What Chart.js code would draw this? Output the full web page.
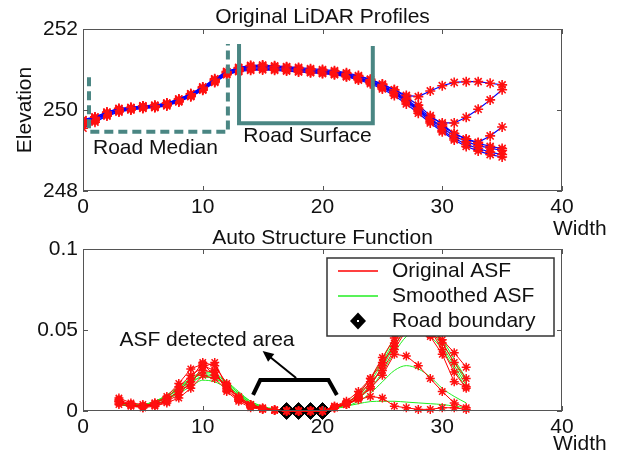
<!DOCTYPE html>
<html><head><meta charset="utf-8">
<script src="https://cdn.jsdelivr.net/npm/chart.js@4.4.0/dist/chart.umd.min.js"></script>
<style>
html,body{margin:0;padding:0;background:#fff;width:619px;height:457px;overflow:hidden}
#c1{position:absolute;left:0;top:0}
#c2{position:absolute;left:0;top:218px}
</style></head><body>
<canvas id="c1" width="619" height="240"></canvas>
<canvas id="c2" width="619" height="239"></canvas>
<script>
// ---------- DATA ----------
const widthX = [0,1,2,3,4,5,6,7,8,9,10,11,12,13,14,15,16,17,18,19,20,21,22,23,24,25,26,27,28,29,30,31,32,33,34,35];
const profile1 = [249.75,249.82,249.95,250.04,250.06,250.10,250.11,250.17,250.27,250.40,250.56,250.76,250.95,251.04,251.09,251.10,251.08,251.06,251.03,251.00,250.98,250.95,250.90,250.83,250.75,250.63,250.50,250.36,250.33,250.47,250.60,250.68,250.70,250.70,250.66,250.62];
const profile2 = [249.72,249.80,249.92,250.00,250.05,250.08,250.10,250.15,250.25,250.38,250.54,250.74,250.93,251.02,251.07,251.08,251.06,251.04,251.01,250.98,250.96,250.93,250.88,250.80,250.72,250.60,250.46,250.27,250.05,249.82,249.68,249.68,249.82,250.02,250.25,250.50];
const profile3 = [249.70,249.78,249.90,250.00,250.04,250.08,250.09,250.14,250.24,250.36,250.52,250.72,250.92,251.00,251.05,251.07,251.05,251.03,251.00,250.97,250.95,250.92,250.87,250.79,250.70,250.58,250.44,250.24,250.02,249.78,249.60,249.42,249.28,249.20,249.36,249.58];
const profile4 = [249.76,249.83,249.94,250.03,250.06,250.10,250.12,250.17,250.27,250.40,250.57,250.77,250.95,251.05,251.10,251.11,251.09,251.07,251.05,251.02,251.00,250.97,250.92,250.85,250.76,250.64,250.50,250.32,250.12,249.86,249.64,249.42,249.28,249.18,249.10,249.05];
const profile5 = [249.68,249.77,249.90,249.99,250.03,250.07,250.08,250.13,250.22,250.35,250.51,250.71,250.90,250.98,251.03,251.04,251.02,251.00,250.98,250.95,250.93,250.90,250.85,250.78,250.70,250.57,250.42,250.22,250.00,249.76,249.56,249.36,249.22,249.12,249.06,249.00];
const profile6 = [249.62,249.74,249.87,249.97,250.01,250.05,250.07,250.12,250.21,250.34,250.50,250.70,250.88,250.96,251.00,251.01,251.00,250.98,250.95,250.93,250.91,250.88,250.83,250.76,250.68,250.55,250.40,250.20,249.97,249.72,249.50,249.30,249.15,249.05,248.96,248.90];
const profile7 = [249.55,249.70,249.85,249.95,250.00,250.04,250.06,250.10,250.20,250.33,250.49,250.68,250.87,250.95,250.98,250.99,250.98,250.96,250.94,250.92,250.90,250.87,250.82,250.74,250.65,250.52,250.36,250.15,249.92,249.68,249.46,249.26,249.10,248.99,248.90,248.84];

const asfX = [3,4,5,6,7,8,9,10,11,12,13,14,15,16,17,18,19,20,21,22,23,24,25,26,27,28,29,30,31,32];
const asfOrig1 = [0.007,0.004,0.003,0.004,0.007,0.012,0.020,0.030,0.028,0.017,0.008,0.003,0.0015,0.0005,0,0,0,0,0.003,0.005,0.010,0.020,0.033,0.045,0.058,0.062,0.055,0.042,0.030,0.020];
const asfOrig2 = [0.006,0.003,0.003,0.005,0.008,0.015,0.022,0.027,0.030,0.015,0.007,0.003,0.001,0.0005,0,0,0,0,0.002,0.004,0.008,0.015,0.028,0.042,0.055,0.060,0.050,0.038,0.024,0.014];
const asfOrig3 = [0.008,0.005,0.004,0.003,0.006,0.010,0.018,0.025,0.024,0.014,0.009,0.004,0.002,0.0008,0,0,0,0,0.003,0.006,0.012,0.020,0.030,0.040,0.052,0.058,0.047,0.044,0.036,0.027];
const asfOrig4 = [0.005,0.004,0.002,0.004,0.006,0.013,0.016,0.028,0.025,0.012,0.006,0.002,0.001,0.0005,0,0,0,0,0.002,0.005,0.009,0.018,0.025,0.038,0.050,0.056,0.046,0.035,0.018,0.015];
const asfOrig5 = [0.006,0.004,0.003,0.005,0.009,0.017,0.026,0.029,0.022,0.016,0.008,0.004,0.0015,0.0005,0,0,0,0,0.002,0.004,0.008,0.014,0.022,0.035,0.034,0.028,0.020,0.012,0.005,0.002];
const asfOrig6 = [0.004,0.003,0.002,0.003,0.005,0.008,0.014,0.022,0.020,0.013,0.007,0.003,0.0015,0.0008,0,0,0,0,0.002,0.004,0.007,0.009,0.008,0.003,0.002,0.001,0.001,0.002,0.002,0.001];
const asfSmooth1 = [0.005,0.004,0.004,0.005,0.008,0.012,0.017,0.021,0.020,0.016,0.010,0.005,0.002,0.0008,0.0003,0.0002,0.0003,0.0008,0.002,0.005,0.010,0.018,0.030,0.043,0.052,0.055,0.050,0.040,0.028,0.016];
const asfSmooth2 = [0.0045,0.0035,0.004,0.006,0.010,0.015,0.020,0.022,0.021,0.017,0.011,0.006,0.0025,0.001,0.0004,0.0002,0.0003,0.0008,0.002,0.004,0.009,0.016,0.027,0.040,0.050,0.054,0.052,0.044,0.032,0.020];
const asfSmooth3 = [0.005,0.004,0.004,0.006,0.009,0.014,0.019,0.023,0.022,0.018,0.012,0.006,0.003,0.0012,0.0005,0.0003,0.0003,0.0006,0.0018,0.004,0.008,0.014,0.024,0.036,0.046,0.050,0.046,0.038,0.026,0.014];
const asfSmooth4 = [0.004,0.003,0.003,0.005,0.009,0.014,0.020,0.024,0.023,0.018,0.011,0.005,0.002,0.001,0.0004,0.0002,0.0003,0.0008,0.002,0.005,0.011,0.020,0.032,0.045,0.055,0.058,0.052,0.042,0.030,0.018];
const asfSmooth5 = [0.005,0.004,0.004,0.006,0.009,0.013,0.018,0.021,0.020,0.016,0.010,0.005,0.002,0.0008,0.0003,0.0002,0.0003,0.0007,0.0015,0.003,0.006,0.011,0.018,0.025,0.028,0.026,0.021,0.014,0.009,0.005];
const asfSmooth6 = [0.004,0.003,0.003,0.004,0.007,0.011,0.015,0.019,0.018,0.014,0.009,0.004,0.0018,0.0007,0.0003,0.0002,0.0003,0.0007,0.0015,0.003,0.0045,0.0058,0.006,0.006,0.0055,0.005,0.0045,0.004,0.003,0.002];
const boundaryX = [17,18,19,20];
const boundaryY = [0,0,0,0];

const xTicks = [0,10,20,30,40];
const elevTicks = [248,250,252];
const asfTicks = [0,0.05,0.1];
const asfTickLabels = ['0','0.05','0.1'];

// ---------- HELPERS ----------
const FONT = "'Liberation Sans', Arial, sans-serif";
Chart.defaults.font.family = FONT;
Chart.defaults.font.size = 21;
Chart.defaults.color = '#111';

function pts(xs, ys){ return xs.map((x,i)=>({x:x, y:ys[i]})); }

function boxPlugin(id){
  return {
    id: id,
    afterDraw(chart){
      const {ctx, chartArea:a, scales} = chart;
      ctx.save();
      ctx.strokeStyle = '#555'; ctx.lineWidth = 1;
      ctx.strokeRect(a.left+0.5, a.top+0.5, a.right-a.left-1, a.bottom-a.top-1);
      ctx.beginPath();
      scales.x.ticks.forEach(t=>{
        const px = Math.round(scales.x.getPixelForValue(t.value))+0.5;
        ctx.moveTo(px, a.bottom); ctx.lineTo(px, a.bottom-5);
        ctx.moveTo(px, a.top); ctx.lineTo(px, a.top+5);
      });
      scales.y.ticks.forEach(t=>{
        const py = Math.round(scales.y.getPixelForValue(t.value))+0.5;
        ctx.moveTo(a.left, py); ctx.lineTo(a.left+5, py);
        ctx.moveTo(a.right, py); ctx.lineTo(a.right-5, py);
      });
      ctx.stroke();
      ctx.restore();
    }
  };
}

function pathData(chart, list){
  const {x,y} = chart.scales;
  const ctx = chart.ctx;
  ctx.beginPath();
  list.forEach((p,i)=>{
    const px = x.getPixelForValue(p[0]), py = y.getPixelForValue(p[1]);
    if(i===0) ctx.moveTo(px,py); else ctx.lineTo(px,py);
  });
}

function xScale(extra){
  return Object.assign({
    type:'linear', min:0, max:40,
    grid:{display:false, drawTicks:false}, border:{display:false},
    afterBuildTicks(s){ s.ticks = xTicks.map(v=>({value:v})); },
    ticks:{padding:4, maxRotation:0, color:'#111'},
    afterFit(s){ s.height = 30; }
  }, extra||{});
}

// ---------- TOP CHART ----------
const profiles = [profile1,profile2,profile3,profile4,profile5,profile6,profile7];
const topDatasets = profiles.map(p=>({
  data: pts(widthX, p),
  borderColor:'#0000ff', borderWidth:1.2,
  pointStyle:'star', pointRadius:5, pointBorderColor:'#ff1010', pointBorderWidth:1.6,
  pointBackgroundColor:'#ff1010', tension:0, fill:false
}));

const topAnnot = {
  id:'topAnnot',
  afterDatasetsDraw(chart){
    const ctx = chart.ctx, a = chart.chartArea, {x,y} = chart.scales;
    ctx.save();
    ctx.strokeStyle = '#4a8683'; ctx.lineWidth = 4; ctx.lineJoin='miter';
    ctx.setLineDash([9,5]);
    pathData(chart, [[0.5,250.81],[0.5,249.46],[12.1,249.46],[12.1,251.63]]);
    ctx.stroke();
    ctx.setLineDash([]);
    pathData(chart, [[13.03,251.63],[13.03,249.67],[24.2,249.67],[24.2,251.58]]);
    ctx.stroke();
    ctx.fillStyle = '#111'; ctx.font = '21px '+FONT;
    ctx.textAlign='center'; ctx.textBaseline='middle';
    ctx.fillText('Road Median', x.getPixelForValue(6.05), y.getPixelForValue(249.06));
    ctx.fillText('Road Surface', x.getPixelForValue(18.75), y.getPixelForValue(249.35));
    ctx.restore();
  },
  afterDraw(chart){
    const ctx = chart.ctx, a = chart.chartArea;
    ctx.save();
    ctx.fillStyle='#111'; ctx.font='21px '+FONT;
    ctx.textAlign='center'; ctx.textBaseline='alphabetic';
    ctx.fillText('Original LiDAR Profiles', (a.left+a.right)/2, 23);
    ctx.textAlign='left';
    ctx.fillText('Width', 553, 235);
    ctx.translate(31, 110); ctx.rotate(-Math.PI/2);
    ctx.textAlign='center';
    ctx.fillText('Elevation', 0, 0);
    ctx.restore();
  }
};

new Chart(document.getElementById('c1'), {
  type:'line',
  data:{ datasets: topDatasets },
  options:{
    responsive:false, animation:false, devicePixelRatio:1,
    layout:{padding:{top:29, right:57, left:0, bottom:19}},
    plugins:{legend:{display:false}, tooltip:{enabled:false}, title:{display:false}},
    scales:{
      x: xScale(),
      y:{
        type:'linear', min:248, max:252,
        grid:{display:false, drawTicks:false}, border:{display:false},
        afterBuildTicks(s){ s.ticks = elevTicks.map(v=>({value:v})); },
        ticks:{padding:5, color:'#111', callback:(v)=>String(v)},
        afterFit(s){ s.width = 83; }
      }
    }
  },
  plugins:[topAnnot, boxPlugin('box1')]
});

// ---------- BOTTOM CHART ----------
const origs = [asfOrig1,asfOrig2,asfOrig3,asfOrig4,asfOrig5,asfOrig6];
const smooths = [asfSmooth1,asfSmooth2,asfSmooth3,asfSmooth4,asfSmooth5,asfSmooth6];
const botDatasets = [];
origs.forEach(o=>botDatasets.push({
  data: pts(asfX, o), order:0, clip:false,
  borderColor:'#ff0000', borderWidth:1,
  pointStyle:'star', pointRadius:4.5, pointBorderColor:'#ff1010', pointBorderWidth:1.5,
  pointBackgroundColor:'#ff1010', tension:0
}));
botDatasets.push({
  data: pts(boundaryX, boundaryY), order:1, clip:false, showLine:false,
  pointStyle:'rectRot', pointRadius:8.5, pointBackgroundColor:'#000', pointBorderColor:'#000', pointBorderWidth:1
});
smooths.forEach(s=>botDatasets.push({
  data: pts(asfX, s), order:2, clip:false,
  borderColor:'#22ee22', borderWidth:1, pointRadius:0,
  cubicInterpolationMode:'monotone', tension:0.4
}));

const botAnnot = {
  id:'botAnnot',
  afterDatasetsDraw(chart){
    const ctx = chart.ctx, a = chart.chartArea, {x,y} = chart.scales;
    ctx.save();
    // bracket
    ctx.strokeStyle='#000'; ctx.lineWidth=4; ctx.lineJoin='miter';
    pathData(chart, [[14.2,0.0099],[14.8,0.0191],[20.5,0.0191],[21.2,0.0099]]);
    ctx.stroke();
    // arrow
    const x1=x.getPixelForValue(17.8), y1=y.getPixelForValue(0.0204);
    const x2=x.getPixelForValue(15.0), y2=y.getPixelForValue(0.037);
    const ang=Math.atan2(y2-y1,x2-x1);
    ctx.lineWidth=2;
    ctx.beginPath(); ctx.moveTo(x1,y1); ctx.lineTo(x2-6*Math.cos(ang), y2-6*Math.sin(ang)); ctx.stroke();
    ctx.fillStyle='#000';
    ctx.beginPath();
    ctx.moveTo(x2,y2);
    ctx.lineTo(x2-11*Math.cos(ang)+5*Math.sin(ang), y2-11*Math.sin(ang)-5*Math.cos(ang));
    ctx.lineTo(x2-11*Math.cos(ang)-5*Math.sin(ang), y2-11*Math.sin(ang)+5*Math.cos(ang));
    ctx.closePath(); ctx.fill();
    // text
    ctx.fillStyle='#111'; ctx.font='21px '+FONT;
    ctx.textAlign='center'; ctx.textBaseline='middle';
    ctx.fillText('ASF detected area', x.getPixelForValue(10.35), y.getPixelForValue(0.0438));
    // legend
    const L=a.left+244, T=a.top+9, R=a.right-8, B=a.top+87;
    ctx.fillStyle='#fff'; ctx.fillRect(L,T,R-L,B-T);
    ctx.strokeStyle='#333'; ctx.lineWidth=1.5; ctx.strokeRect(L,T,R-L,B-T);
    const rows=[a.top+22,a.top+47,a.top+72];
    ctx.lineWidth=1.5;
    ctx.strokeStyle='#ff0000'; ctx.beginPath(); ctx.moveTo(a.left+255,rows[0]); ctx.lineTo(a.left+295,rows[0]); ctx.stroke();
    ctx.strokeStyle='#22ee22'; ctx.beginPath(); ctx.moveTo(a.left+255,rows[1]); ctx.lineTo(a.left+295,rows[1]); ctx.stroke();
    const dx=a.left+275, dy=rows[2];
    ctx.fillStyle='#000'; ctx.beginPath();
    ctx.moveTo(dx-8,dy); ctx.lineTo(dx,dy-8.5); ctx.lineTo(dx+8,dy); ctx.lineTo(dx,dy+8.5); ctx.closePath(); ctx.fill();
    ctx.fillStyle='#fff'; ctx.fillRect(dx-1,dy-1,2,2);
    ctx.fillStyle='#111'; ctx.textAlign='left'; ctx.textBaseline='middle';
    ctx.fillText('Original ASF', a.left+309, rows[0]);
    ctx.fillText('Smoothed ASF', a.left+309, rows[1]);
    ctx.fillText('Road boundary', a.left+309, rows[2]);
    ctx.restore();
  },
  afterDraw(chart){
    const ctx = chart.ctx, a = chart.chartArea;
    ctx.save();
    ctx.fillStyle='#111'; ctx.font='21px '+FONT;
    ctx.textAlign='center'; ctx.textBaseline='alphabetic';
    ctx.fillText('Auto Structure Function', (a.left+a.right)/2, 26);
    ctx.textAlign='left';
    ctx.fillText('Width', 553, 232);
    ctx.restore();
  }
};

new Chart(document.getElementById('c2'), {
  type:'line',
  data:{ datasets: botDatasets },
  options:{
    responsive:false, animation:false, devicePixelRatio:1,
    layout:{padding:{top:31, right:57, left:0, bottom:16}},
    plugins:{legend:{display:false}, tooltip:{enabled:false}, title:{display:false}},
    scales:{
      x: xScale(),
      y:{
        type:'linear', min:0, max:0.1,
        grid:{display:false, drawTicks:false}, border:{display:false},
        afterBuildTicks(s){ s.ticks = asfTicks.map(v=>({value:v})); },
        ticks:{padding:5, color:'#111', callback:(v)=>asfTickLabels[asfTicks.indexOf(v)] ?? String(v)},
        afterFit(s){ s.width = 83; }
      }
    }
  },
  plugins:[botAnnot, boxPlugin('box2')]
});
</script>
</body></html>
